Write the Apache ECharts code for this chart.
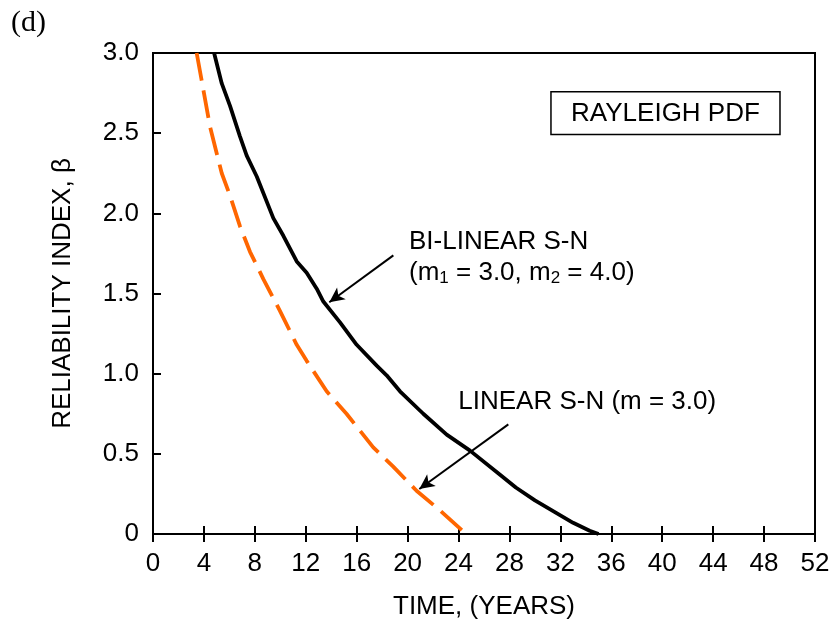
<!DOCTYPE html>
<html><head><meta charset="utf-8">
<script src="https://cdn.jsdelivr.net/npm/echarts@6/dist/echarts.min.js"></script>
<style>html,body{margin:0;padding:0;background:#fff}#c{width:833px;height:625px}</style>
</head><body><div id="c"></div>
<script>
// ---- data ----
const bilinearTime = [4.8, 5.4, 6.05, 6.83, 7.36, 8.15, 9.45, 10.24, 11.29, 12.07, 12.86, 13.38, 14.69, 16.0, 17.57, 18.35, 19.4, 21.23, 23.07, 24.9, 27.26, 28.5, 30.0, 31.5, 33.0, 34.3, 35.0];
const bilinearBeta = [3.0, 2.81, 2.67, 2.48, 2.36, 2.23, 1.97, 1.86, 1.70, 1.63, 1.53, 1.45, 1.32, 1.18, 1.05, 0.99, 0.89, 0.75, 0.62, 0.52, 0.37, 0.29, 0.21, 0.14, 0.07, 0.02, 0.0];
const linearTime = [3.43, 3.82, 4.48, 5.4, 6.05, 6.83, 7.62, 8.67, 9.98, 11.29, 12.07, 13.64, 15.2, 17.3, 18.87, 20.7, 22.5, 24.6];
const linearBeta = [3.0, 2.83, 2.54, 2.25, 2.11, 1.92, 1.76, 1.59, 1.39, 1.18, 1.08, 0.89, 0.75, 0.54, 0.42, 0.27, 0.15, 0.0];
const xTickValues = [0, 4, 8, 12, 16, 20, 24, 28, 32, 36, 40, 44, 48, 52];
const yTickLabels = ['0', '0.5', '1.0', '1.5', '2.0', '2.5', '3.0'];

// annotation anchors (data coordinates)
const arrowBilinear = [[18.88, 1.738], [13.85, 1.445]];
const arrowLinear = [[27.91, 0.684], [20.92, 0.281]];
const textBilinear1 = [20.11, 1.825];
const textBilinear2 = [20.11, 1.630];
const textLinear = [23.98, 0.824];
const boxRayleigh = [[31.26, 2.758], [49.25, 2.492]];

const FONT = 'Arial, "Liberation Sans", Helvetica, sans-serif';
const FS = 26;

const chart = echarts.init(document.getElementById('c'), null, {renderer: 'canvas'});
const zip = (a, b) => a.map((v, i) => [v, b[i]]);

const baseX = {
  type: 'value', min: 0, max: 52, interval: 4,
  axisLine: {show: true, lineStyle: {color: '#000', width: 2}},
  axisTick: {show: true, inside: true, length: 8, lineStyle: {color: '#000', width: 2}},
  splitLine: {show: false}
};

chart.setOption({
  animation: false,
  backgroundColor: '#fff',
  grid: {left: 153, right: 18, top: 53, bottom: 88, show: true, borderColor: '#000', borderWidth: 2, containLabel: false},
  xAxis: [
    Object.assign({}, baseX, {
      position: 'bottom',
      name: 'TIME, (YEARS)', nameLocation: 'middle', nameGap: 60,
      nameTextStyle: {fontFamily: FONT, fontSize: FS, color: '#000'},
      axisLabel: {show: true, margin: 17, fontFamily: FONT, fontSize: FS, color: '#000',
        formatter: v => xTickValues.indexOf(v) >= 0 ? String(v) : ''}
    }),
    Object.assign({}, baseX, {position: 'top', axisLabel: {show: false}})
  ],
  yAxis: [
    {
      type: 'value', min: 0, max: 3, interval: 0.5, position: 'left',
      name: 'RELIABILITY INDEX, β', nameLocation: 'middle', nameGap: 77,
      nameTextStyle: {fontFamily: FONT, fontSize: FS, color: '#000'},
      axisLine: {show: true, lineStyle: {color: '#000', width: 2}},
      axisTick: {show: true, inside: true, length: 8, lineStyle: {color: '#000', width: 2}},
      axisLabel: {show: true, margin: 14, fontFamily: FONT, fontSize: FS, color: '#000',
        formatter: v => yTickLabels[Math.round(v / 0.5)]},
      splitLine: {show: false}
    },
    {
      type: 'value', min: 0, max: 3, interval: 0.5, position: 'right',
      axisLine: {show: true, lineStyle: {color: '#000', width: 2}},
      axisTick: {show: false}, axisLabel: {show: false}, splitLine: {show: false}
    }
  ],
  series: [
    {
      type: 'line', name: 'LINEAR S-N', data: zip(linearTime, linearBeta),
      showSymbol: false, symbol: 'none', smooth: false,
      lineStyle: {color: '#FF6600', width: 3.8, type: [28, 10]},
      z: 3
    },
    {
      type: 'line', name: 'BI-LINEAR S-N', data: zip(bilinearTime, bilinearBeta),
      showSymbol: false, symbol: 'none', smooth: false,
      lineStyle: {color: '#000', width: 3.8, type: 'solid'},
      z: 4,
      markLine: {
        silent: true, animation: false,
        symbol: ['none', 'arrow'], symbolSize: [11, 15],
        label: {show: false},
        lineStyle: {color: '#000', width: 2, type: 'solid'},
        data: [
          [{coord: arrowBilinear[0]}, {coord: arrowBilinear[1]}],
          [{coord: arrowLinear[0]}, {coord: arrowLinear[1]}]
        ]
      }
    }
  ]
});

function px(p) { return chart.convertToPixel({gridIndex: 0}, p); }
const b1 = px(textBilinear1), b2 = px(textBilinear2), l1 = px(textLinear);
const r0 = px(boxRayleigh[0]), r1 = px(boxRayleigh[1]);
const font = FS + 'px ' + FONT;

chart.setOption({
  graphic: [
    {type: 'text', left: 11, top: 8, z: 10,
     style: {text: '(d)', font: '30px "Liberation Serif", "Times New Roman", serif', fill: '#000'}},
    {type: 'text', x: b1[0], y: b1[1], z: 10,
     style: {text: 'BI-LINEAR S-N', font: font, fill: '#000', align: 'left', verticalAlign: 'middle'}},
    {type: 'text', x: b2[0], y: b2[1], z: 10,
     style: {text: '(m{s|1} = 3.0, m{s|2} = 4.0)', font: font, fontSize: FS, fontFamily: FONT, fill: '#000',
       align: 'left', verticalAlign: 'middle', lineHeight: 28,
       rich: {s: {fontSize: 17, fontFamily: FONT, fill: '#000', verticalAlign: 'bottom', lineHeight: 10}}}},
    {type: 'text', x: l1[0], y: l1[1], z: 10,
     style: {text: 'LINEAR S-N (m = 3.0)', font: font, fill: '#000', align: 'left', verticalAlign: 'middle'}},
    {type: 'rect', z: 10,
     shape: {x: r0[0], y: r0[1], width: r1[0] - r0[0], height: r1[1] - r0[1]},
     style: {fill: '#fff', stroke: '#000', lineWidth: 1.5}},
    {type: 'text', x: (r0[0] + r1[0]) / 2, y: (r0[1] + r1[1]) / 2 + 1, z: 11,
     style: {text: 'RAYLEIGH PDF', font: font, fill: '#000', align: 'center', verticalAlign: 'middle'}}
  ]
});
</script>
</body></html>
